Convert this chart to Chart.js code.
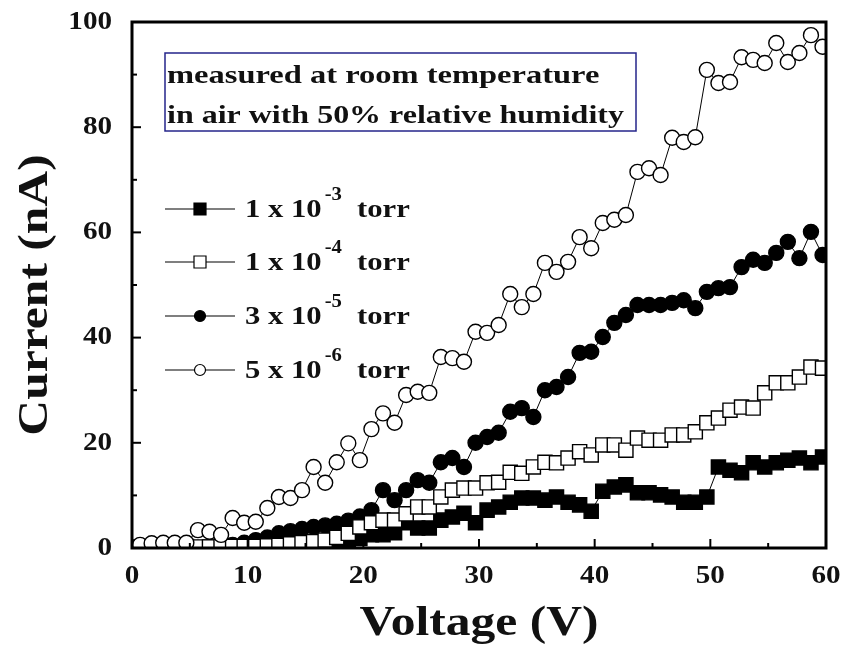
<!DOCTYPE html>
<html>
<head>
<meta charset="utf-8">
<script src="https://cdn.jsdelivr.net/npm/chart.js@4.4.1/dist/chart.umd.min.js"></script>
<style>
  html, body { margin: 0; padding: 0; background: #fff; }
  #wrap { width: 842px; height: 647px; }
</style>
</head>
<body>
<div id="wrap"><canvas id="Canvas1" width="842" height="647"></canvas></div>
<script>
// voltage steps (V)
var voltage = [0.7, 1.7, 2.7, 3.7, 4.7, 5.7, 6.7, 7.7, 8.7, 9.7,
    10.7, 11.7, 12.7, 13.7, 14.7, 15.7, 16.7, 17.7, 18.7, 19.7,
    20.7, 21.7, 22.7, 23.7, 24.7, 25.7, 26.7, 27.7, 28.7, 29.7,
    30.7, 31.7, 32.7, 33.7, 34.7, 35.7, 36.7, 37.7, 38.7, 39.7,
    40.7, 41.7, 42.7, 43.7, 44.7, 45.7, 46.7, 47.7, 48.7, 49.7,
    50.7, 51.7, 52.7, 53.7, 54.7, 55.7, 56.7, 57.7, 58.7, 59.7];

// current (nA) for each pressure
var torr1e3 = [null, null, null, null, null, 0, 0, 0, 0.2, 0.3,
    0.3, 0.5, 0.5, 0.7, 0.8, 1.0, 1.0, 1.2, 1.5, 1.8,
    2.5, 2.5, 2.9, 4.8, 3.8, 3.8, 5.3, 5.9, 6.6, 4.8,
    7.2, 7.8, 8.7, 9.5, 9.5, 9.1, 9.7, 8.7, 8.2, 7.0,
    10.8, 11.6, 12.0, 10.5, 10.5, 10.1, 9.7, 8.7, 8.7, 9.7,
    15.4, 14.8, 14.3, 16.2, 15.4, 16.2, 16.7, 17.1, 16.2, 17.3];

var torr1e4 = [0.2, 0.2, 0.2, 0.3, 0.3, 0.2, 0.2, 0.3, 0.3, 0.3,
    0.3, 0.4, 0.5, 0.8, 1.0, 1.2, 1.5, 2.0, 2.8, 4.0,
    4.8, 5.3, 5.3, 6.5, 7.8, 7.8, 9.7, 11.0, 11.4, 11.4,
    12.4, 12.5, 14.4, 14.2, 15.4, 16.3, 16.2, 17.1, 18.3, 17.7,
    19.6, 19.6, 18.6, 20.9, 20.5, 20.5, 21.5, 21.5, 22.1, 23.8,
    24.7, 26.2, 26.8, 26.6, 29.5, 31.4, 31.4, 32.5, 34.4, 34.2];

var torr3e5 = [null, null, null, null, null, 0, 0.2, 0.4, 0.6, 1.0,
    1.5, 2.0, 2.8, 3.2, 3.6, 4.0, 4.3, 4.6, 5.2, 6.0,
    7.2, 11.0, 9.1, 11.0, 12.9, 12.4, 16.3, 17.1, 15.4, 20.0,
    21.1, 21.9, 25.9, 26.6, 24.9, 30.0, 30.6, 32.5, 37.1, 37.3,
    40.1, 42.8, 44.3, 46.2, 46.2, 46.2, 46.6, 47.1, 45.6, 48.7,
    49.4, 49.6, 53.4, 54.8, 54.2, 56.1, 58.2, 55.1, 60.1, 55.7];

var torr5e6 = [0.6, 0.9, 1.0, 1.0, 1.0, 3.4, 3.1, 2.5, 5.7, 4.8,
    5.0, 7.6, 9.7, 9.5, 11.0, 15.4, 12.4, 16.3, 19.9, 16.7,
    22.6, 25.6, 23.8, 29.1, 29.7, 29.5, 36.3, 36.1, 35.4, 41.1,
    40.9, 42.4, 48.3, 45.8, 48.3, 54.2, 52.5, 54.4, 59.1, 57.0,
    61.8, 62.4, 63.3, 71.5, 72.2, 70.9, 78.0, 77.2, 78.1, 90.9,
    88.4, 88.6, 93.3, 92.8, 92.2, 96.0, 92.4, 94.1, 97.5, 95.3];

var xTicks = [0, 10, 20, 30, 40, 50, 60];
var yTicks = [0, 20, 40, 60, 80, 100];
var legendLabels = [['1 x 10', '-3', 'torr'], ['1 x 10', '-4', 'torr'],
                    ['3 x 10', '-5', 'torr'], ['5 x 10', '-6', 'torr']];
var noteLines = ['measured at room temperature', 'in air with 50% relative humidity'];

function pairs(ys) {
    return voltage.map(function (v, i) { return {x: v, y: ys[i]}; });
}

var INK = '#111';
var FONT = '"Liberation Serif", "Times New Roman", serif';

// text drawn a bit wider than the font, as in the original figure
function wideText(ctx, text, x, y, size, sx, align) {
    ctx.save();
    ctx.font = 'bold ' + size + 'px ' + FONT;
    ctx.textAlign = 'left';
    var w = ctx.measureText(text).width * sx;
    var x0 = align === 'center' ? x - w / 2 : (align === 'right' ? x - w : x);
    ctx.translate(x0, y);
    ctx.scale(sx, 1);
    ctx.fillStyle = INK;
    ctx.fillText(text, 0, 0);
    ctx.restore();
    return w;
}

var styles = [
    {style: 'rect', fill: '#000', r: 10},
    {style: 'rect', fill: '#fff', r: 10},
    {style: 'circle', fill: '#000', r: 7.5},
    {style: 'circle', fill: '#fff', r: 7.5}
];

var framePlugin = {
    id: 'framePlugin',
    afterDatasetsDraw: function (chart) {
        var ctx = chart.ctx, a = chart.chartArea;
        var xs = chart.scales.x, ys = chart.scales.y;
        ctx.save();
        ctx.strokeStyle = '#000';
        // inward ticks
        ctx.lineWidth = 2;
        xs.ticks.forEach(function (t) {
            var px = xs.getPixelForValue(t.value);
            var len = t.value % 10 === 0 ? 9 : 5;
            ctx.beginPath(); ctx.moveTo(px, a.bottom); ctx.lineTo(px, a.bottom - len); ctx.stroke();
        });
        ys.ticks.forEach(function (t) {
            var py = ys.getPixelForValue(t.value);
            var len = t.value % 20 === 0 ? 9 : 5;
            ctx.beginPath(); ctx.moveTo(a.left, py); ctx.lineTo(a.left + len, py); ctx.stroke();
        });
        ctx.lineWidth = 3;
        ctx.strokeRect(a.left, a.top, a.right - a.left, a.bottom - a.top);
        ctx.restore();

        // tick labels
        ctx.save();
        ctx.textBaseline = 'middle';
        xTicks.forEach(function (v) {
            wideText(ctx, String(v), xs.getPixelForValue(v), a.bottom + 28, 26, 1.12, 'center');
        });
        yTicks.forEach(function (v) {
            wideText(ctx, String(v), a.left - 20, ys.getPixelForValue(v), 26, 1.12, 'right');
        });
        // axis titles
        wideText(ctx, 'Voltage (V)', (a.left + a.right) / 2, 624, 42, 1.18, 'center');
        ctx.save();
        ctx.translate(36, 295);
        ctx.rotate(-Math.PI / 2);
        wideText(ctx, 'Current (nA)', 0, 0, 42, 1.18, 'center');
        ctx.restore();
        ctx.restore();

        // note box
        ctx.save();
        ctx.strokeStyle = '#24248a';
        ctx.lineWidth = 1.5;
        ctx.strokeRect(165, 53, 471, 78);
        ctx.textBaseline = 'alphabetic';
        wideText(ctx, noteLines[0], 167, 83, 26, 1.25, 'left');
        wideText(ctx, noteLines[1], 167, 123, 26, 1.23, 'left');
        ctx.restore();

        // legend
        var rowY = [209, 262, 316, 370];
        legendLabels.forEach(function (lab, i) {
            var y = rowY[i], s = styles[i];
            ctx.save();
            ctx.strokeStyle = '#000';
            ctx.lineWidth = 1.2;
            ctx.beginPath(); ctx.moveTo(165, y); ctx.lineTo(235, y); ctx.stroke();
            ctx.fillStyle = s.fill;
            ctx.beginPath();
            if (s.style === 'rect') {
                ctx.rect(194, y - 6, 12, 12);
            } else {
                ctx.arc(200, y, 5.5, 0, Math.PI * 2);
            }
            ctx.fill(); ctx.stroke();
            ctx.textBaseline = 'middle';
            var x = 245;
            x += wideText(ctx, lab[0], x, y + 1, 26, 1.18, 'left');
            x += 3;
            wideText(ctx, lab[1], x, y - 14, 18, 1.15, 'left');
            wideText(ctx, lab[2], 357, y + 1, 26, 1.18, 'left');
            ctx.restore();
        });
    }
};

function ds(label, ys, s, order) {
    return {
        label: label,
        data: pairs(ys),
        borderColor: '#000',
        borderWidth: 1,
        pointStyle: s.style,
        pointRadius: s.r,
        pointBorderWidth: 1.4,
        pointBackgroundColor: s.fill,
        pointBorderColor: '#000',
        showLine: true,
        order: order
    };
}

var GKChart = document.getElementById('Canvas1').getContext('2d');
var myChart = new Chart(GKChart, {
    type: 'scatter',
    data: {
        datasets: [
            ds('1 x 10-3 torr', torr1e3, styles[0], 3),
            ds('1 x 10-4 torr', torr1e4, styles[1], 1),
            ds('3 x 10-5 torr', torr3e5, styles[2], 2),
            ds('5 x 10-6 torr', torr5e6, styles[3], 0)
        ]
    },
    options: {
        responsive: false,
        animation: false,
        layout: {autoPadding: false, padding: {top: 22, right: 16, left: 0, bottom: 0}},
        plugins: {legend: {display: false}, tooltip: {enabled: false}},
        scales: {
            x: {
                type: 'linear', min: 0, max: 60,
                ticks: {display: false, stepSize: 5},
                grid: {display: false},
                border: {display: false},
                afterFit: function (s) { s.height = 99; }
            },
            y: {
                min: 0, max: 100,
                ticks: {display: false, stepSize: 10},
                grid: {display: false},
                border: {display: false},
                afterFit: function (s) { s.width = 132; }
            }
        }
    },
    plugins: [framePlugin]
});
</script>
</body>
</html>
